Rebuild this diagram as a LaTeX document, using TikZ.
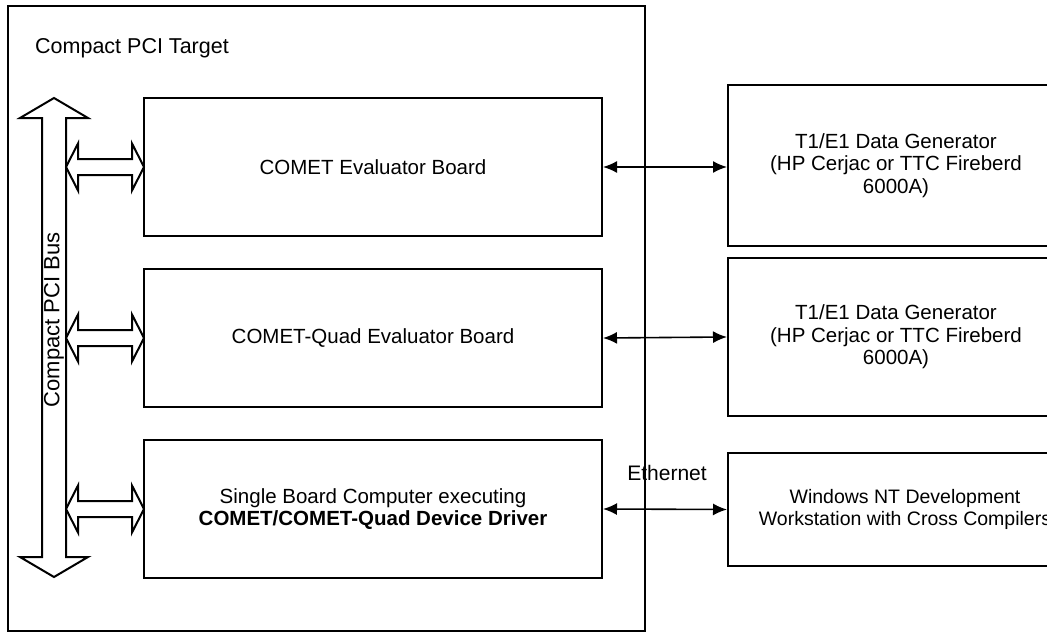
\documentclass[tikz,border=0pt]{standalone}
\usepackage{fontspec}
\setmainfont{Liberation Sans}
\usetikzlibrary{arrows.meta}
\begin{document}
\begin{tikzpicture}[x=1pt,y=-1pt,
  box/.style={draw,line width=2pt,inner sep=0pt,align=center,font=\fontsize{20.5}{22.5}\selectfont},
  blockarrow/.style={draw,line width=2pt,fill=white,line join=miter},
  link/.style={line width=1.6pt,{Latex[length=14pt,width=12pt]}-{Latex[length=14pt,width=12pt]}},
  lbl/.style={inner sep=0pt,font=\fontsize{21}{24}\selectfont}]
\clip (0,0) rectangle (1047,634);
% outer target box
\node[box,minimum width=637,minimum height=625] (target) at (326.5,318.5) {};
\node[anchor=west,inner sep=0pt,font=\fontsize{21.5}{24}\selectfont] (title) at (35,48) {Compact PCI Target};
% boards
\node[box,minimum width=458,minimum height=138] (b1) at (373,167) {COMET Evaluator Board};
\node[box,minimum width=458,minimum height=138] (b2) at (373,338) {COMET-Quad Evaluator Board};
\node[box,minimum width=458,minimum height=138] (b3) at (373,509) {Single Board Computer executing\\\textbf{COMET/COMET-Quad Device Driver}};
% external equipment
\node[box,minimum width=336,minimum height=161] (r1) at (896,165.5) {T1/E1 Data Generator\\(HP Cerjac or TTC Fireberd\\6000A)};
\node[box,minimum width=336,minimum height=158] (r2) at (896,337) {T1/E1 Data Generator\\(HP Cerjac or TTC Fireberd\\6000A)};
\node[box,minimum width=354,minimum height=113,font=\fontsize{19.5}{22}\selectfont] (r3) at (905,509.5) {Windows NT Development\\Workstation with Cross Compilers};
% compact PCI bus
\draw[blockarrow] (42,118) -- (20,118) -- (54,98) -- (88,118) -- (66,118) -- (66,557) -- (88,557) -- (54,577) -- (20,557) -- (42,557) -- cycle;
\node[lbl,rotate=90,font=\fontsize{22}{24}\selectfont] (bus) at (54,320) {Compact PCI Bus};
% bus to board block arrows
\foreach \yy in {167,338,509}{
  \draw[blockarrow] (66,\yy) -- (78,\yy-23.5) -- (78,\yy-8) -- (132,\yy-8) -- (132,\yy-23.5) -- (144,\yy) -- (132,\yy+23.5) -- (132,\yy+8) -- (78,\yy+8) -- (78,\yy+23.5) -- cycle;
}
% links
\draw[link] (b1.east) -- (b1.east -| r1.west);
\draw[link] (b2.east) -- (r2.west);
\draw[link] (b3.east) -- (r3.west);
\node[lbl] (eth) at (667,473) {Ethernet};
\end{tikzpicture}
\end{document}
